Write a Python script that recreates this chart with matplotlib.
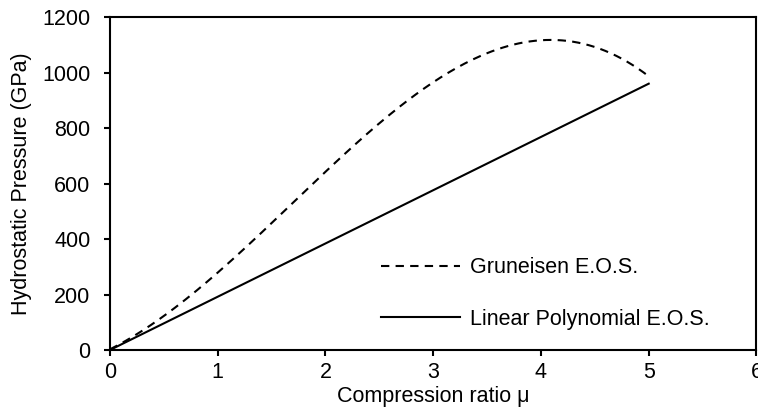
import numpy as np
import matplotlib.pyplot as plt

plt.rcParams['font.family'] = ['Liberation Sans', 'DejaVu Sans']

# values
mu_grun = [0, 0.5, 1.0, 1.5, 2.0, 2.5, 3.0, 3.5, 4.0, 4.25, 4.5, 4.75, 5.0]
p_grun = [0, 130, 275, 452, 640, 830, 965, 1060, 1115, 1118, 1095, 1050, 985]
mu_lin = [0, 5.0]
p_lin = [0, 960]

# smooth the dashed curve through the read points
xs = np.linspace(0, 5, 200)
coef = np.polyfit(mu_grun, p_grun, 5)
ys = np.polyval(coef, xs)

fs = 15.5

fig = plt.figure(figsize=(7.58, 4.07), dpi=100)
ax = fig.add_axes([0.145, 0.14, 0.853, 0.818])

ax.plot(xs, ys, color='black', lw=1.5, linestyle=(0, (4, 3)), label='Gruneisen E.O.S.')
ax.plot(mu_lin, p_lin, color='black', lw=1.5, label='Linear Polynomial E.O.S.')

ax.set_xlim(0, 6)
ax.set_ylim(0, 1200)
ax.set_xticks(range(0, 7))
ax.set_yticks(range(0, 1201, 200))
ax.tick_params(direction='out', length=4.5, width=1.5, labelsize=fs)
ax.tick_params(axis='x', pad=4)
ax.tick_params(axis='y', pad=9.5)
for s in ax.spines.values():
    s.set_linewidth(1.5)

ax.set_xlabel('Compression ratio μ', fontsize=fs)
ax.xaxis.set_label_coords(0.5, -0.109)
ax.set_ylabel('Hydrostatic Pressure (GPa)', fontsize=fs, labelpad=7)

ax.legend(loc='center left', bbox_to_anchor=(0.419, 0.17), frameon=False,
          fontsize=fs, handlelength=3.7, handletextpad=0.45, labelspacing=1.42,
          borderpad=0, borderaxespad=0)

plt.savefig('out.png', dpi=100)
